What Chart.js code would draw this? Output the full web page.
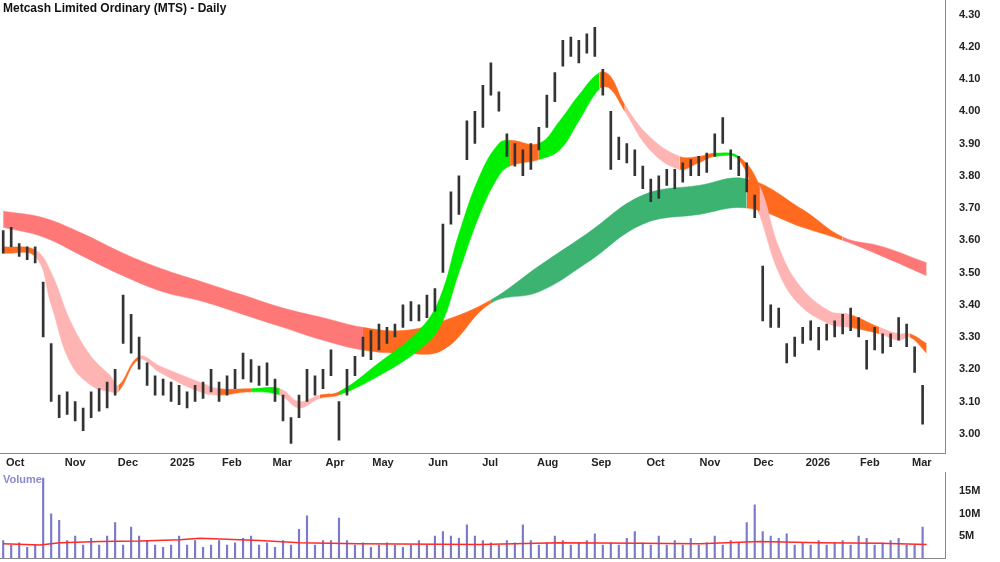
<!DOCTYPE html>
<html>
<head>
<meta charset="utf-8">
<script src="https://cdn.jsdelivr.net/npm/chart.js@4.4.1/dist/chart.umd.min.js"></script>
<style>
    body { margin: 0; background: #fff; font-family: 'Liberation Sans', Arial, sans-serif; overflow: hidden; }
    #wrap_preco { position: absolute; left: 0; top: -12px; width: 1000px; height: 492px; }
    #wrap_volume { position: absolute; left: 0; top: 460px; width: 1000px; height: 111px; }
</style>
</head>
<body>
<div id="wrap_preco"><canvas id="grafico_preco"></canvas></div>
<div id="wrap_volume"><canvas id="grafico_volume"></canvas></div>
<script>
// meses no eixo x (posicao em indice de barra)
var meses_label = ['Oct', 'Nov', 'Dec', '2025', 'Feb', 'Mar', 'Apr', 'May', 'Jun', 'Jul', 'Aug', 'Sep', 'Oct', 'Nov', 'Dec', '2026', 'Feb', 'Mar'];
var meses_pos = [1.5, 9, 15.6, 22.4, 28.6, 34.9, 41.5, 47.5, 54.4, 60.9, 68.1, 74.8, 81.6, 88.4, 95.1, 101.9, 108.4, 114.9];

// barras de preco (minima / maxima)
var minimas = [
    3.56, 3.58, 3.55, 3.54, 3.53, 3.30, 3.10, 3.05, 3.06, 3.04,
    3.01, 3.05, 3.07, 3.08, 3.12, 3.28, 3.25, 3.20, 3.15, 3.12,
    3.12, 3.10, 3.09, 3.08, 3.10, 3.11, 3.13, 3.10, 3.12, 3.14,
    3.17, 3.16, 3.15, 3.15, 3.10, 3.04, 2.97, 3.05, 3.10, 3.12,
    3.14, 3.18, 2.98, 3.12, 3.18, 3.24, 3.23, 3.26, 3.28, 3.30,
    3.33, 3.35, 3.35, 3.36, 3.38, 3.50, 3.65, 3.68, 3.85, 3.90,
    3.95, 4.05, 4.00, 3.86, 3.83, 3.80, 3.82, 3.88, 3.95, 4.03,
    4.14, 4.17, 4.15, 4.18, 4.17, 4.05, 3.82, 3.85, 3.84, 3.80,
    3.76, 3.72, 3.73, 3.77, 3.76, 3.78, 3.80, 3.80, 3.81, 3.86,
    3.90, 3.82, 3.80, 3.75, 3.67, 3.35, 3.33, 3.33, 3.22, 3.24,
    3.28, 3.29, 3.26, 3.29, 3.30, 3.31, 3.32, 3.30, 3.20, 3.26,
    3.25, 3.27, 3.29, 3.27, 3.19, 3.03
];
var maximas = [
    3.63, 3.64, 3.59, 3.58, 3.58, 3.47, 3.28, 3.12, 3.13, 3.10,
    3.08, 3.13, 3.14, 3.16, 3.20, 3.43, 3.37, 3.30, 3.22, 3.18,
    3.17, 3.16, 3.15, 3.13, 3.15, 3.16, 3.20, 3.16, 3.18, 3.20,
    3.25, 3.23, 3.21, 3.22, 3.17, 3.12, 3.05, 3.12, 3.20, 3.18,
    3.20, 3.26, 3.10, 3.20, 3.24, 3.30, 3.32, 3.34, 3.33, 3.34,
    3.40, 3.41, 3.40, 3.43, 3.45, 3.65, 3.75, 3.80, 3.97, 4.00,
    4.08, 4.15, 4.06, 3.93, 3.90, 3.88, 3.90, 3.95, 4.05, 4.12,
    4.22, 4.23, 4.22, 4.24, 4.26, 4.13, 4.00, 3.92, 3.90, 3.88,
    3.83, 3.79, 3.80, 3.82, 3.82, 3.84, 3.85, 3.86, 3.87, 3.93,
    3.98, 3.88, 3.86, 3.84, 3.74, 3.52, 3.40, 3.39, 3.28, 3.30,
    3.33, 3.35, 3.33, 3.34, 3.35, 3.37, 3.39, 3.36, 3.29, 3.33,
    3.31, 3.31, 3.36, 3.34, 3.27, 3.15
];

// volume (milhoes)
var volumes = [
    4, 3, 3.5, 2.5, 3, 18, 10, 8.5, 4, 5,
    3, 4.5, 3, 5, 8, 3, 7, 5, 4, 3,
    2.5, 3, 5, 3, 4, 2.5, 3, 4, 3, 3.5,
    4.5, 5, 3, 3.5, 2.5, 4, 3, 6.5, 9.5, 3,
    4, 4, 9, 4, 3, 3.5, 2.5, 3, 3.5, 3,
    2.5, 3, 4, 3, 5, 6, 5, 4.5, 7.5, 5,
    4, 3.5, 3, 4, 3.5, 7.5, 4, 3, 3.5, 5,
    4, 3, 3.5, 4, 5.5, 3, 3.5, 3, 4.5, 6,
    3.5, 3, 5, 3, 4, 3, 4.5, 3, 3.5, 5,
    3, 4, 3.5, 8, 12, 6, 5, 4.5, 5.5, 3,
    3.5, 3, 4, 3, 3.5, 4, 3, 5, 4.5, 3,
    3.5, 4, 4.5, 3, 3, 7
];
var media_vol_pos = [0, 4.6, 7.1, 12.1, 17.1, 22.1, 24.6, 32.1, 37.1, 44.6, 49.6, 59.6, 69.6, 79.6, 87.1, 94.6, 102.1, 109.6, 115.5];
var media_vol = [3.3, 3.0, 3.5, 3.8, 3.9, 4.2, 4.5, 4.0, 3.5, 3.3, 3.2, 3.1, 3.5, 3.4, 3.3, 3.8, 3.5, 3.4, 3.1];

// faixa de medias longas
var longa_pos = [0, 5, 10, 15, 20, 25, 30, 35, 40, 45, 50, 55, 61, 67, 73, 80, 87, 93, 100, 105, 110, 115.5];
var longa_topo = [3.69, 3.67, 3.62, 3.56, 3.51, 3.47, 3.43, 3.39, 3.36, 3.33, 3.32, 3.35, 3.415, 3.52, 3.62, 3.74, 3.77, 3.79, 3.695, 3.61, 3.58, 3.53];
var longa_base = [3.64, 3.61, 3.55, 3.49, 3.44, 3.41, 3.37, 3.33, 3.29, 3.26, 3.25, 3.26, 3.405, 3.44, 3.53, 3.65, 3.68, 3.70, 3.64, 3.60, 3.55, 3.49];
var longa_tendencia = ['b', 'b', 'b', 'b', 'b', 'b', 'b', 'b', 'b', 'm', 'm', 'm', 'a', 'a', 'a', 'a', 'a', 'm', 'm', 'b', 'b', 'b'];

// faixa de medias curtas
var curta_pos = [0, 4, 6, 8.4, 11, 13.4, 14.4, 17, 19.6, 24.6, 27, 31, 34.6, 37, 39.6, 42, 47, 52, 54.6, 57, 59.6, 62,
    63.4, 67, 69.6, 72, 74.6, 75.9, 77.75, 80.9, 84.6, 87, 89, 92, 94.6, 97, 99.6, 103.4, 105.9, 109.6, 112, 113.4, 115.5];
var curta_topo = [3.58, 3.57, 3.50, 3.35, 3.24, 3.18, 3.15, 3.24, 3.21, 3.16, 3.14, 3.14, 3.14, 3.10, 3.12, 3.13, 3.22, 3.32, 3.42, 3.62, 3.80, 3.90,
    3.91, 3.90, 3.97, 4.05, 4.12, 4.11, 4.02, 3.92, 3.86, 3.86, 3.87, 3.86, 3.77, 3.58, 3.46, 3.38, 3.37, 3.33, 3.31, 3.31, 3.28];
var curta_base = [3.56, 3.55, 3.40, 3.22, 3.15, 3.13, 3.13, 3.23, 3.19, 3.13, 3.12, 3.13, 3.12, 3.08, 3.11, 3.12, 3.18, 3.26, 3.33, 3.50, 3.68, 3.80,
    3.83, 3.85, 3.88, 3.97, 4.07, 4.07, 4.00, 3.88, 3.82, 3.84, 3.86, 3.85, 3.68, 3.50, 3.40, 3.34, 3.33, 3.31, 3.29, 3.30, 3.25];
var curta_tendencia = ['m', 'b', 'b', 'b', 'b', 'b', 'm', 'b', 'b', 'b', 'm', 'a', 'b', 'b', 'm', 'a', 'a', 'a', 'a', 'a', 'a', 'a',
    'm', 'a', 'a', 'a', 'm', 'm', 'b', 'b', 'm', 'm', 'a', 'm', 'b', 'b', 'b', 'b', 'm', 'b', 'b', 'm', 'b'];

var cores_longa = { b: '#ff7878', m: '#ff6a1f', a: '#3cb371' };
var cores_curta = { b: '#ffb4b4', m: '#ff6a1f', a: '#00ee00' };

function pontos(pos, val) {
    var arr = [];
    for (var i = 0; i < pos.length; i++) {
        arr.push({ x: pos[i], y: val[i] });
    }
    return arr;
}

function faixa(pos, topo, base, tendencia, cores, ordem) {
    var cor = (ctx) => cores[tendencia[ctx.p0DataIndex]];
    return [{
        type: 'line',
        data: pontos(pos, topo),
        borderWidth: 0.5,
        borderColor: cores[tendencia[0]],
        backgroundColor: cores[tendencia[0]],
        pointRadius: 0,
        tension: 0.4,
        fill: '+1',
        order: ordem,
        segment: { backgroundColor: cor, borderColor: cor }
    }, {
        type: 'line',
        data: pontos(pos, base),
        borderWidth: 0.5,
        borderColor: cores[tendencia[0]],
        pointRadius: 0,
        tension: 0.4,
        fill: false,
        order: ordem,
        segment: { borderColor: cor }
    }];
}

var barras_preco = [];
var barras_volume = [];
for (var i = 0; i < minimas.length; i++) {
    barras_preco.push({ x: i, y: [minimas[i], maximas[i]] });
    barras_volume.push({ x: i, y: volumes[i] });
}

var fonte_eixo = { family: 'Liberation Sans', size: 11, weight: 'bold' };

function eixo_x(mostrar_labels) {
    return {
        type: 'linear',
        offset: false,
        min: -0.4,
        max: 117.8,
        grid: { display: false, drawTicks: true, tickLength: 3 },
        border: { color: '#888' },
        afterBuildTicks: (eixo) => {
            eixo.ticks = meses_pos.map((p) => ({ value: p }));
        },
        ticks: {
            display: mostrar_labels,
            autoSkip: false,
            maxRotation: 0,
            padding: 0,
            color: '#222',
            font: fonte_eixo,
            callback: (v, idx) => meses_label[idx]
        }
    };
}

// texto do titulo e do volume
var plugin_titulo = {
    id: 'titulo',
    afterDraw: (chart) => {
        var op = chart.options.plugins.titulo;
        var c = chart.ctx;
        c.save();
        c.font = op.font;
        c.fillStyle = op.color;
        c.textBaseline = 'top';
        c.fillText(op.text, 3, op.y);
        c.restore();
    }
};

var datasets_preco = [].concat(
    faixa(longa_pos, longa_topo, longa_base, longa_tendencia, cores_longa, 3),
    faixa(curta_pos, curta_topo, curta_base, curta_tendencia, cores_curta, 2),
    [{
        type: 'bar',
        data: barras_preco,
        backgroundColor: '#333',
        barThickness: 2,
        order: 0
    }]
);

new Chart(document.getElementById('grafico_preco'), {
    type: 'bar',
    data: { datasets: datasets_preco },
    plugins: [plugin_titulo],
    options: {
        responsive: true,
        maintainAspectRatio: false,
        animation: false,
        layout: { padding: { bottom: 10 } },
        plugins: {
            legend: { display: false },
            tooltip: { enabled: false },
            titulo: { text: 'Metcash Limited Ordinary (MTS) - Daily', font: 'bold 12px Liberation Sans', color: '#111', y: 15 }
        },
        scales: {
            x: eixo_x(true),
            y: {
                position: 'right',
                min: 2.938,
                max: 4.343,
                grid: { display: false },
                border: { color: '#888' },
                afterFit: (eixo) => { eixo.width = 55; },
                afterBuildTicks: (eixo) => {
                    var t = [];
                    for (var v = 3.0; v <= 4.301; v += 0.1) t.push({ value: Math.round(v * 100) / 100 });
                    eixo.ticks = t;
                },
                ticks: {
                    color: '#222',
                    font: fonte_eixo,
                    padding: 6,
                    callback: (v) => v.toFixed(2)
                }
            }
        }
    }
});

new Chart(document.getElementById('grafico_volume'), {
    type: 'bar',
    data: {
        datasets: [{
            type: 'line',
            data: pontos(media_vol_pos, media_vol),
            borderColor: '#ff2a2a',
            borderWidth: 1.5,
            pointRadius: 0,
            order: 0
        }, {
            type: 'bar',
            data: barras_volume,
            backgroundColor: '#7a7acc',
            barThickness: 1.5,
            order: 1
        }]
    },
    plugins: [plugin_titulo],
    options: {
        responsive: true,
        maintainAspectRatio: false,
        animation: false,
        plugins: {
            legend: { display: false },
            tooltip: { enabled: false },
            titulo: { text: 'Volume', font: 'bold 11px Liberation Sans', color: '#8a8ad0', y: 14 }
        },
        scales: {
            x: eixo_x(false),
            y: {
                position: 'right',
                min: 0,
                max: 19.2,
                grid: { display: false },
                border: { color: '#888' },
                afterFit: (eixo) => { eixo.width = 55; },
                afterBuildTicks: (eixo) => {
                    eixo.ticks = [{ value: 5 }, { value: 10 }, { value: 15 }];
                },
                ticks: {
                    color: '#222',
                    font: fonte_eixo,
                    padding: 6,
                    callback: (v) => v + 'M'
                }
            }
        }
    }
});
</script>
</body>
</html>
